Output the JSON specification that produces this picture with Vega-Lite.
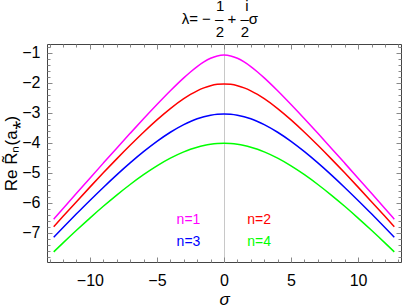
{
  "$schema": "https://vega.github.io/schema/vega-lite/v6.json",
  "width": 354,
  "height": 218,
  "autosize": {"type": "none"},
  "padding": {"left": 47, "top": 44, "right": 4, "bottom": 46},
  "background": "white",
  "title": {
    "text": ["\u200b\u00a0\u00a0\u00a0\u00a01\u00a0\u00a0\u00a0\u00a0\u00a0i\u200b", "\u200bλ=\u00a0−\u00a0–\u00a0+\u00a0–σ\u00a0\u00a0\u200b", "\u200b\u00a0\u00a0\u00a0\u00a02\u00a0\u00a0\u00a0\u00a02\u200b"],
    "fontSize": 15,
    "fontWeight": "normal",
    "font": "Liberation Sans",
    "lineHeight": 13,
    "offset": 4,
    "anchor": "middle",
    "frame": "group",
    "color": "black"
  },
  "config": {
    "view": {"stroke": "#444", "strokeWidth": 1},
    "font": "Liberation Sans",
    "axis": {"labelFont": "Liberation Sans", "titleFont": "Liberation Sans", "labelColor": "black", "titleColor": "black", "titleFontWeight": "normal", "domain": false}
  },
  "datasets": {
    "curves": [
      {"s": -12.7, "v": -6.54, "n": "1"}, {"s": -12, "v": -6.184, "n": "1"}, {"s": -11, "v": -5.677, "n": "1"}, {"s": -10, "v": -5.173, "n": "1"}, {"s": -9, "v": -4.671, "n": "1"}, {"s": -8, "v": -4.172, "n": "1"}, {"s": -7, "v": -3.679, "n": "1"}, {"s": -6, "v": -3.192, "n": "1"}, {"s": -5, "v": -2.717, "n": "1"}, {"s": -4, "v": -2.258, "n": "1"}, {"s": -3, "v": -1.829, "n": "1"}, {"s": -2.5, "v": -1.632, "n": "1"}, {"s": -2, "v": -1.453, "n": "1"}, {"s": -1.5, "v": -1.298, "n": "1"}, {"s": -1, "v": -1.176, "n": "1"}, {"s": -0.5, "v": -1.097, "n": "1"}, {"s": 0, "v": -1.07, "n": "1"}, {"s": 0.5, "v": -1.097, "n": "1"}, {"s": 1, "v": -1.176, "n": "1"}, {"s": 1.5, "v": -1.298, "n": "1"}, {"s": 2, "v": -1.453, "n": "1"}, {"s": 2.5, "v": -1.632, "n": "1"}, {"s": 3, "v": -1.829, "n": "1"}, {"s": 4, "v": -2.258, "n": "1"}, {"s": 5, "v": -2.717, "n": "1"}, {"s": 6, "v": -3.192, "n": "1"}, {"s": 7, "v": -3.679, "n": "1"}, {"s": 8, "v": -4.172, "n": "1"}, {"s": 9, "v": -4.671, "n": "1"}, {"s": 10, "v": -5.173, "n": "1"}, {"s": 11, "v": -5.677, "n": "1"}, {"s": 12, "v": -6.184, "n": "1"}, {"s": 12.7, "v": -6.54, "n": "1"},
      {"s": -12.7, "v": -6.79, "n": "2"}, {"s": -12, "v": -6.445, "n": "2"}, {"s": -11, "v": -5.955, "n": "2"}, {"s": -10, "v": -5.471, "n": "2"}, {"s": -9, "v": -4.995, "n": "2"}, {"s": -8, "v": -4.529, "n": "2"}, {"s": -7, "v": -4.076, "n": "2"}, {"s": -6, "v": -3.64, "n": "2"}, {"s": -5, "v": -3.229, "n": "2"}, {"s": -4, "v": -2.852, "n": "2"}, {"s": -3, "v": -2.523, "n": "2"}, {"s": -2.5, "v": -2.382, "n": "2"}, {"s": -2, "v": -2.261, "n": "2"}, {"s": -1.5, "v": -2.163, "n": "2"}, {"s": -1, "v": -2.09, "n": "2"}, {"s": -0.5, "v": -2.045, "n": "2"}, {"s": 0, "v": -2.03, "n": "2"}, {"s": 0.5, "v": -2.045, "n": "2"}, {"s": 1, "v": -2.09, "n": "2"}, {"s": 1.5, "v": -2.163, "n": "2"}, {"s": 2, "v": -2.261, "n": "2"}, {"s": 2.5, "v": -2.382, "n": "2"}, {"s": 3, "v": -2.523, "n": "2"}, {"s": 4, "v": -2.852, "n": "2"}, {"s": 5, "v": -3.229, "n": "2"}, {"s": 6, "v": -3.64, "n": "2"}, {"s": 7, "v": -4.076, "n": "2"}, {"s": 8, "v": -4.529, "n": "2"}, {"s": 9, "v": -4.995, "n": "2"}, {"s": 10, "v": -5.471, "n": "2"}, {"s": 11, "v": -5.955, "n": "2"}, {"s": 12, "v": -6.445, "n": "2"}, {"s": 12.7, "v": -6.79, "n": "2"},
      {"s": -12.7, "v": -7.14, "n": "3"}, {"s": -12, "v": -6.816, "n": "3"}, {"s": -11, "v": -6.361, "n": "3"}, {"s": -10, "v": -5.915, "n": "3"}, {"s": -9, "v": -5.482, "n": "3"}, {"s": -8, "v": -5.063, "n": "3"}, {"s": -7, "v": -4.664, "n": "3"}, {"s": -6, "v": -4.29, "n": "3"}, {"s": -5, "v": -3.946, "n": "3"}, {"s": -4, "v": -3.642, "n": "3"}, {"s": -3, "v": -3.387, "n": "3"}, {"s": -2.5, "v": -3.282, "n": "3"}, {"s": -2, "v": -3.193, "n": "3"}, {"s": -1.5, "v": -3.123, "n": "3"}, {"s": -1, "v": -3.072, "n": "3"}, {"s": -0.5, "v": -3.04, "n": "3"}, {"s": 0, "v": -3.03, "n": "3"}, {"s": 0.5, "v": -3.04, "n": "3"}, {"s": 1, "v": -3.072, "n": "3"}, {"s": 1.5, "v": -3.123, "n": "3"}, {"s": 2, "v": -3.193, "n": "3"}, {"s": 2.5, "v": -3.282, "n": "3"}, {"s": 3, "v": -3.387, "n": "3"}, {"s": 4, "v": -3.642, "n": "3"}, {"s": 5, "v": -3.946, "n": "3"}, {"s": 6, "v": -4.29, "n": "3"}, {"s": 7, "v": -4.664, "n": "3"}, {"s": 8, "v": -5.063, "n": "3"}, {"s": 9, "v": -5.482, "n": "3"}, {"s": 10, "v": -5.915, "n": "3"}, {"s": 11, "v": -6.361, "n": "3"}, {"s": 12, "v": -6.816, "n": "3"}, {"s": 12.7, "v": -7.14, "n": "3"},
      {"s": -12.7, "v": -7.63, "n": "4"}, {"s": -12, "v": -7.33, "n": "4"}, {"s": -11, "v": -6.91, "n": "4"}, {"s": -10, "v": -6.503, "n": "4"}, {"s": -9, "v": -6.11, "n": "4"}, {"s": -8, "v": -5.736, "n": "4"}, {"s": -7, "v": -5.383, "n": "4"}, {"s": -6, "v": -5.056, "n": "4"}, {"s": -5, "v": -4.762, "n": "4"}, {"s": -4, "v": -4.506, "n": "4"}, {"s": -3, "v": -4.297, "n": "4"}, {"s": -2.5, "v": -4.211, "n": "4"}, {"s": -2, "v": -4.14, "n": "4"}, {"s": -1.5, "v": -4.084, "n": "4"}, {"s": -1, "v": -4.043, "n": "4"}, {"s": -0.5, "v": -4.018, "n": "4"}, {"s": 0, "v": -4.01, "n": "4"}, {"s": 0.5, "v": -4.018, "n": "4"}, {"s": 1, "v": -4.043, "n": "4"}, {"s": 1.5, "v": -4.084, "n": "4"}, {"s": 2, "v": -4.14, "n": "4"}, {"s": 2.5, "v": -4.211, "n": "4"}, {"s": 3, "v": -4.297, "n": "4"}, {"s": 4, "v": -4.506, "n": "4"}, {"s": 5, "v": -4.762, "n": "4"}, {"s": 6, "v": -5.056, "n": "4"}, {"s": 7, "v": -5.383, "n": "4"}, {"s": 8, "v": -5.736, "n": "4"}, {"s": 9, "v": -6.11, "n": "4"}, {"s": 10, "v": -6.503, "n": "4"}, {"s": 11, "v": -6.91, "n": "4"}, {"s": 12, "v": -7.33, "n": "4"}, {"s": 12.7, "v": -7.63, "n": "4"}
    ],
    "labels": [
      {"s": -2.65, "v": -6.57, "n": "1", "label": "n=1"},
      {"s": 2.62, "v": -6.57, "n": "2", "label": "n=2"},
      {"s": -2.65, "v": -7.3, "n": "3", "label": "n=3"},
      {"s": 2.62, "v": -7.3, "n": "4", "label": "n=4"}
    ]
  },
  "layer": [
    {
      "data": {"name": "curves"},
      "mark": {"type": "line", "strokeWidth": 1.5, "interpolate": "monotone"},
      "encoding": {
        "x": {"field": "s", "type": "quantitative", "scale": {"domain": [-13.2, 13.2], "nice": false, "zero": false},
          "axis": {"orient": "bottom", "values": [-10, -5, 0, 5, 10], "ticks": false, "labelFontSize": 16, "labelPadding": 10, "title": "σ", "titleFontSize": 17, "titleFontStyle": "italic", "titlePadding": 3,
            "grid": true, "gridColor": "#c8c8c8", "gridWidth": 1, "gridOpacity": {"condition": {"test": "datum.value === 0", "value": 1}, "value": 0}}},
        "y": {"field": "v", "type": "quantitative", "scale": {"domain": [-7.967, -0.7], "nice": false, "zero": false},
          "axis": {"orient": "left", "values": [-7, -6, -5, -4, -3, -2, -1], "ticks": false, "grid": false, "labelFontSize": 16, "labelPadding": 7, "title": "Re R̃ₙ(a⁎)", "titleFontSize": 17, "titlePadding": 1}},
        "color": {"field": "n", "type": "nominal", "scale": {"domain": ["1", "2", "3", "4"], "range": ["#ff00ff", "#ff0000", "#0000ff", "#00ff00"]}, "legend": null}
      }
    },
    {
      "data": {"name": "curves"},
      "mark": {"type": "line", "opacity": 0},
      "encoding": {
        "x": {"field": "s", "type": "quantitative",
          "axis": {"orient": "bottom", "values": [-13, -12, -11, -10, -9, -8, -7, -6, -5, -4, -3, -2, -1, 0, 1, 2, 3, 4, 5, 6, 7, 8, 9, 10, 11, 12, 13], "labels": false, "grid": false, "title": null, "tickColor": "#888",
            "tickSize": {"condition": {"test": "datum.value % 5 === 0", "value": -5}, "value": -3}}},
        "y": {"field": "v", "type": "quantitative",
          "axis": {"orient": "left", "values": [-7.8, -7.6, -7.4, -7.2, -7, -6.8, -6.6, -6.4, -6.2, -6, -5.8, -5.6, -5.4, -5.2, -5, -4.8, -4.6, -4.4, -4.2, -4, -3.8, -3.6, -3.4, -3.2, -3, -2.8, -2.6, -2.4, -2.2, -2, -1.8, -1.6, -1.4, -1.2, -1, -0.8], "labels": false, "grid": false, "title": null, "tickColor": "#888",
            "tickSize": {"condition": {"test": "abs(datum.value - round(datum.value)) < 0.001", "value": -5}, "value": -3}}}
      }
    },
    {
      "data": {"name": "curves"},
      "mark": {"type": "line", "opacity": 0},
      "encoding": {
        "x": {"field": "s", "type": "quantitative",
          "axis": {"orient": "top", "values": [-13, -12, -11, -10, -9, -8, -7, -6, -5, -4, -3, -2, -1, 0, 1, 2, 3, 4, 5, 6, 7, 8, 9, 10, 11, 12, 13], "labels": false, "grid": false, "title": null, "tickColor": "#888",
            "tickSize": {"condition": {"test": "datum.value % 5 === 0", "value": -5}, "value": -3}}},
        "y": {"field": "v", "type": "quantitative",
          "axis": {"orient": "right", "values": [-7.8, -7.6, -7.4, -7.2, -7, -6.8, -6.6, -6.4, -6.2, -6, -5.8, -5.6, -5.4, -5.2, -5, -4.8, -4.6, -4.4, -4.2, -4, -3.8, -3.6, -3.4, -3.2, -3, -2.8, -2.6, -2.4, -2.2, -2, -1.8, -1.6, -1.4, -1.2, -1, -0.8], "labels": false, "grid": false, "title": null, "tickColor": "#888",
            "tickSize": {"condition": {"test": "abs(datum.value - round(datum.value)) < 0.001", "value": -5}, "value": -3}}}
      }
    },
    {
      "data": {"name": "labels"},
      "mark": {"type": "text", "fontSize": 14, "font": "Liberation Sans", "align": "center", "baseline": "middle"},
      "encoding": {
        "x": {"field": "s", "type": "quantitative", "axis": null},
        "y": {"field": "v", "type": "quantitative", "axis": null},
        "text": {"field": "label", "type": "nominal"},
        "color": {"field": "n", "type": "nominal", "legend": null}
      }
    }
  ],
  "resolve": {"axis": {"x": "independent", "y": "independent"}}
}
